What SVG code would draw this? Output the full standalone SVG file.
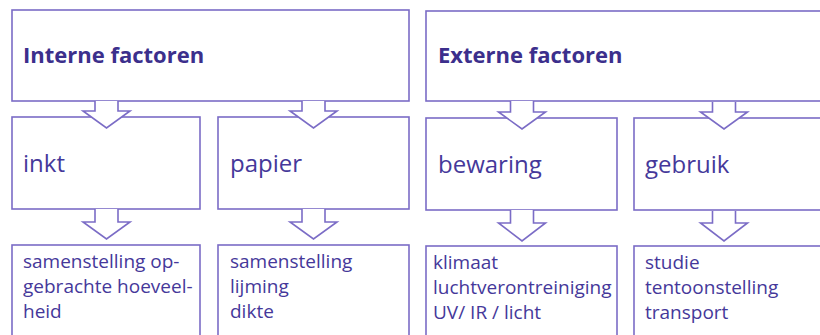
<svg xmlns="http://www.w3.org/2000/svg" width="820" height="335" viewBox="0 0 820 335">
<style>
.box{fill:#ffffff;stroke:#7b6cc6;stroke-width:1.6}
.arr{fill:#ffffff;stroke:#7b6cc6;stroke-width:1.6;stroke-linejoin:miter}
text{font-family:"Open Sans","Noto Sans","Liberation Sans",sans-serif;fill:#45389a}
.h{font-size:22px;font-weight:700;fill:#3c2f8c}
.m{font-size:24px}
.s{font-size:19px}
</style>
<rect width="820" height="335" fill="#ffffff"/>
<g id="interne">
<rect class="box" x="12" y="10" width="397" height="91"/>
<text class="h" x="23" y="63">Interne factoren</text>
</g>
<g id="externe">
<rect class="box" x="426" y="11" width="420" height="90"/>
<text class="h" x="438" y="63">Externe factoren</text>
</g>
<g id="inkt">
<rect class="box" x="12" y="117" width="188" height="92"/>
<text class="m" x="23" y="172">inkt</text>
</g>
<g id="papier">
<rect class="box" x="218" y="117" width="191" height="92"/>
<text class="m" x="230" y="172">papier</text>
</g>
<g id="bewaring">
<rect class="box" x="426" y="118" width="191" height="92"/>
<text class="m" x="438" y="173">bewaring</text>
</g>
<g id="gebruik">
<rect class="box" x="634" y="118" width="210" height="92"/>
<text class="m" x="645" y="173">gebruik</text>
</g>
<g id="inkt-details">
<rect class="box" x="12" y="245" width="188" height="100"/>
<text class="s" x="23"><tspan x="23" y="268">samenstelling op-</tspan><tspan x="23" y="293">gebrachte hoeveel-</tspan><tspan x="23" y="318">heid</tspan></text>
</g>
<g id="papier-details">
<rect class="box" x="218" y="245" width="191" height="100"/>
<text class="s"><tspan x="230" y="268">samenstelling</tspan><tspan x="230" y="293">lijming</tspan><tspan x="230" y="318">dikte</tspan></text>
</g>
<g id="bewaring-details">
<rect class="box" x="426" y="246" width="191" height="100"/>
<text class="s"><tspan x="433" y="269">klimaat</tspan><tspan x="433" y="294">luchtverontreiniging</tspan><tspan x="433" y="319">UV/ IR / licht</tspan></text>
</g>
<g id="gebruik-details">
<rect class="box" x="634" y="246" width="210" height="100"/>
<text class="s"><tspan x="645" y="269">studie</tspan><tspan x="645" y="294">tentoonstelling</tspan><tspan x="645" y="319">transport</tspan></text>
</g>
<g id="connectors">
<path class="arr" d="M95,101 V111 H83 L106.5,128 L130,111 H118 V101"/>
<path class="arr" d="M302,101 V111 H290 L313.5,128 L337,111 H325 V101"/>
<path class="arr" d="M510.5,101 V112 H498.5 L522,129 L545.5,112 H533.5 V101"/>
<path class="arr" d="M712.5,102 V112 H700.5 L724,129 L747.5,112 H735.5 V102"/>
<path class="arr" d="M95,209 V222 H83 L106.5,239 L130,222 H118 V209"/>
<path class="arr" d="M302,209 V222 H290 L313.5,239 L337,222 H325 V209"/>
<path class="arr" d="M510.5,210 V223 H498.5 L522,241 L545.5,223 H533.5 V210"/>
<path class="arr" d="M712.5,211 V223 H700.5 L724,241 L747.5,223 H735.5 V211"/>
</g>
</svg>
